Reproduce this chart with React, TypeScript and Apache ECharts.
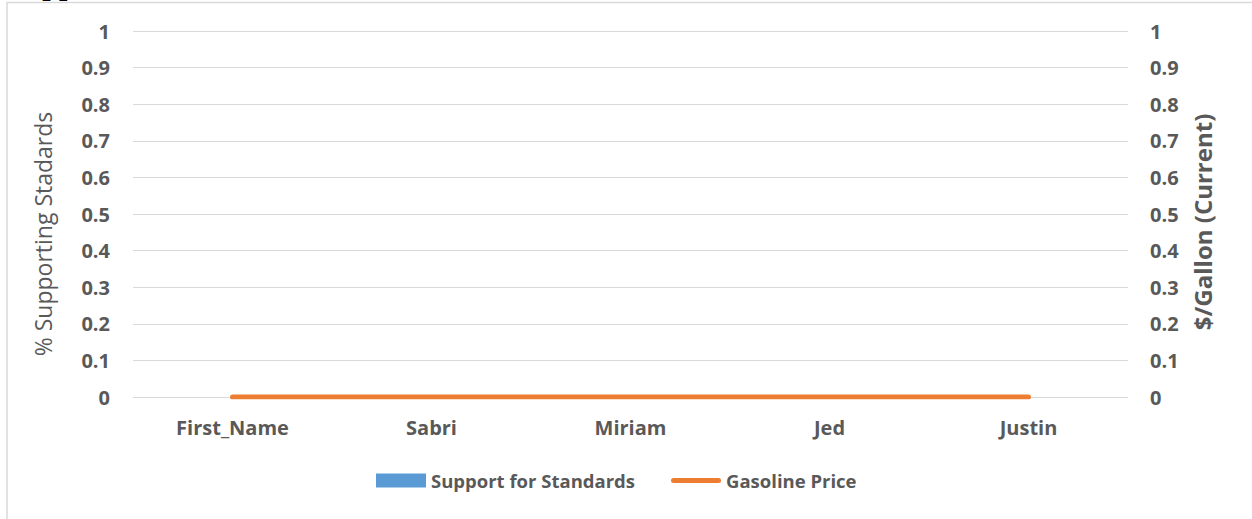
import React, { useEffect, useRef } from "react";
import * as echarts from "echarts";

const categories = ["First_Name", "Sabri", "Miriam", "Jed", "Justin"];
const supportValues = [0, 0, 0, 0, 0];
const gasolineValues = [0, 0, 0, 0, 0];
const seriesNames = ["Support for Standards", "Gasoline Price"];
const leftAxisName = "% Supporting Stadards";
const rightAxisName = "$/Gallon (Current)";
const headingText = "Support";

const GRAY = "#595959";
const FONT = "'Open Sans', 'Noto Sans', sans-serif";

export default function App() {
  const ref = useRef<HTMLDivElement>(null);
  useEffect(() => {
    if (!ref.current) return;
    const chart = echarts.init(ref.current, null, { renderer: "svg" });
    const fmt = (v: number) => String(Math.round(v * 10) / 10);
    chart.setOption({
      animation: false,
      backgroundColor: "#ffffff",
      textStyle: { fontFamily: FONT },
      graphic: [
        {
          type: "rect",
          silent: true,
          shape: { x: 7, y: 2.5, width: 1400, height: 700 },
          style: { fill: "none", stroke: "#d9d9d9", lineWidth: 1.5 },
        },
        {
          type: "text",
          x: 9,
          y: -31,
          style: {
            text: headingText,
            font: "bold 30px 'Liberation Serif', 'Times New Roman', serif",
            fill: "#000000",
            textVerticalAlign: "top",
          },
        },
      ],
      grid: {
        left: 133,
        right: 124,
        top: 31,
        bottom: 122,
        containLabel: false,
        outerBoundsMode: "none",
      },
      legend: {
        left: 376,
        top: 471,
        padding: 0,
        itemWidth: 50,
        itemHeight: 14,
        itemGap: 36,
        textStyle: { color: GRAY, fontSize: 18.5, fontWeight: "bold", fontFamily: FONT },
        data: [
          { name: seriesNames[0], icon: "rect" },
          {
            name: seriesNames[1],
            icon: "path://M2.5,0 L47.5,0 A2.5,2.5 0 0 1 47.5,5 L2.5,5 A2.5,2.5 0 0 1 2.5,0 Z",
          },
        ],
      },
      xAxis: {
        type: "category",
        data: categories,
        boundaryGap: true,
        axisLine: { show: false },
        axisTick: { show: false },
        axisLabel: {
          color: GRAY,
          fontSize: 20,
          fontWeight: "bold",
          fontFamily: FONT,
          margin: 20,
          interval: 0,
        },
      },
      yAxis: [
        {
          type: "value",
          min: 0,
          max: 1,
          interval: 0.1,
          position: "left",
          name: leftAxisName,
          nameLocation: "middle",
          nameRotate: 90,
          nameGap: 79,
          nameTextStyle: {
            color: GRAY,
            fontSize: 23,
            fontFamily: FONT,
            padding: [0, 40, 0, 0],
          },
          axisLine: { show: false },
          axisTick: { show: false },
          axisLabel: {
            color: GRAY,
            fontSize: 20,
            fontWeight: "bold",
            fontFamily: FONT,
            margin: 23,
            formatter: fmt,
          },
          splitLine: { show: true, lineStyle: { color: "#d9d9d9", width: 1 } },
        },
        {
          type: "value",
          min: 0,
          max: 1,
          interval: 0.1,
          position: "right",
          name: rightAxisName,
          nameLocation: "middle",
          nameRotate: 90,
          nameGap: 62,
          nameTextStyle: {
            color: GRAY,
            fontSize: 24,
            fontWeight: "bold",
            fontFamily: FONT,
            padding: [0, 16, 0, 0],
          },
          axisLine: { show: false },
          axisTick: { show: false },
          axisLabel: {
            color: GRAY,
            fontSize: 20,
            fontWeight: "bold",
            fontFamily: FONT,
            margin: 22,
            formatter: fmt,
          },
          splitLine: { show: false },
        },
      ],
      series: [
        {
          name: seriesNames[0],
          type: "bar",
          yAxisIndex: 0,
          data: supportValues,
          itemStyle: { color: "#5b9bd5" },
          barWidth: "60%",
        },
        {
          name: seriesNames[1],
          type: "line",
          yAxisIndex: 1,
          data: gasolineValues,
          symbol: "none",
          lineStyle: { color: "#ed7d31", width: 5, cap: "round" },
          itemStyle: { color: "#ed7d31" },
          z: 5,
        },
      ],
    });
    return () => chart.dispose();
  }, []);
  return (
    <div
      ref={ref}
      style={{ position: "fixed", left: 0, top: 0, width: 1252, height: 519 }}
    />
  );
}
